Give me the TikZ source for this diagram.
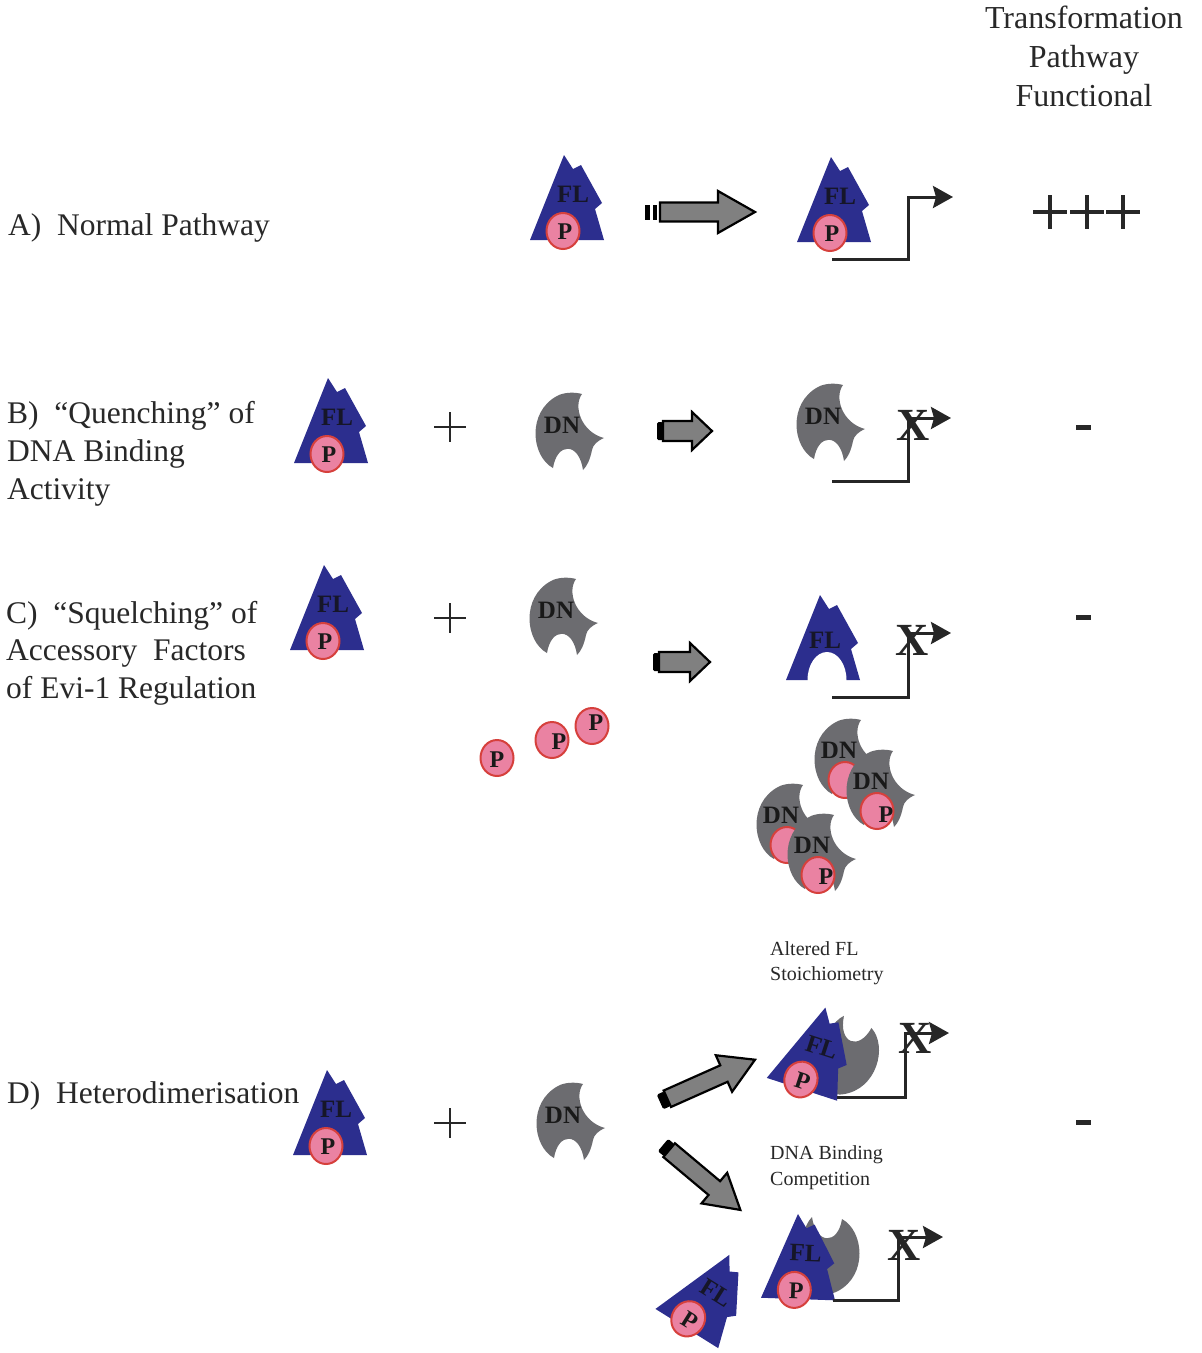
\documentclass[tikz,border=0pt]{standalone}
\usepackage{fontspec}
\setmainfont{Liberation Serif}
\usetikzlibrary{arrows.meta}

\definecolor{flblue}{RGB}{44,46,142}
\definecolor{dngray}{RGB}{108,108,112}
\definecolor{ppink}{RGB}{234,130,162}
\definecolor{pred}{RGB}{214,64,60}
\definecolor{arrgray}{RGB}{128,128,128}
\definecolor{ink}{RGB}{40,40,40}
\definecolor{flink}{RGB}{22,22,40}

% grey block arrow: tail point, angle, length, cap length, body half, head half, head length
\newcommand\blockarr[7]{%
  \begin{scope}[shift={#1},rotate=#2]
    \filldraw[arrowfill] (#4,-#5) -- ({#3-#7},-#5) -- ({#3-#7},-#6) -- (#3,0)
      -- ({#3-#7},#6) -- ({#3-#7},#5) -- (#4,#5) -- cycle;
    \fill[black,rounded corners=1.5pt] (0,{-#5+1}) rectangle (#4,{#5-1});
  \end{scope}}

\tikzset{
  lbl/.style={anchor=base west, inner sep=0pt, text=ink, font=\fontsize{31.5}{38}\selectfont},
  hdr/.style={anchor=base, inner sep=0pt, text=ink, font=\fontsize{32}{38}\selectfont},
  small/.style={anchor=base west, inner sep=0pt, text=ink, font=\fontsize{20}{24}\selectfont},
  fltext/.style={inner sep=0pt, text=flink, font=\fontsize{25}{25}\selectfont\bfseries, transform shape},
  ptext/.style={inner sep=0pt, text=black!90, font=\fontsize{24}{24}\selectfont\bfseries, transform shape},
  dntext/.style={inner sep=0pt, text=black!90, font=\fontsize{25}{25}\selectfont\bfseries, transform shape},
  xmark/.style={inner sep=0pt, text=black!85, font=\fontsize{46}{46}\selectfont\bfseries},
  pball/.style={fill=ppink, draw=pred, line width=2pt},
  prom/.style={draw=black!85, line width=3pt, line join=miter,
    -{Stealth[length=20pt,width=22pt,inset=3pt]}},
  thinplus/.style={draw=ink, line width=1.6pt},
  boldplus/.style={draw=ink, line width=4pt},
  minus/.style={draw=ink, line width=5pt},
  arrowfill/.style={fill=arrgray, draw=black, line width=2.2pt, line join=miter},
  % full-length protein: stacked triangles
  flshape/.pic={
    \fill[flblue] (-36,0) -- (-2,-85) -- (7,-71) -- (15,-75) -- (36,-37)
      -- (29,-31) -- (38,0) -- cycle;},
  flp/.pic={
    \pic[transform shape] {flshape};
    \node[fltext] (-t) at (7,-46) {FL};
    \draw[pball] (-3,-9) ellipse [x radius=16.5pt, y radius=18pt];
    \node[ptext] (-p) at (-1,-8) {P};},
  % dominant negative: notched crescent
  dnshape/.pic={
    \fill[dngray] (-14,36) .. controls (-36,24) and (-40,-20) .. (-10,-36)
      .. controls (-3,-40) and (8,-40) .. (15,-38)
      .. controls (6,-26) and (14,0) .. (37,6)
      .. controls (30,9) and (26,13) .. (25,18)
      .. controls (23,28) and (20,34) .. (16,38)
      .. controls (12,10) and (-10,10) .. (-14,36) -- cycle;},
  dn/.pic={
    \pic[transform shape] {dnshape};
    \node[dntext] (-t) at (-5,-7) {DN};},
  dnball/.pic={
    \pic[transform shape] {dnshape};
    \node[dntext] (-t) at (-7,-8) {DN};
    \draw[pball] (-1,22) ellipse [x radius=16.5pt, y radius=18pt];},
}

\begin{document}
\begin{tikzpicture}[x=1pt,y=-1pt]
\useasboundingbox (0,0) rectangle (1202,1353);
\fill[white] (0,0) rectangle (1202,1353);

% column heading
\node[hdr] (h1) at (1084,28) {Transformation};
\node[hdr] (h2) at (1084,67) {Pathway};
\node[hdr] (h3) at (1084,106) {Functional};

% row labels
\node[lbl] (la)  at (8,235)  {A)\enspace Normal Pathway};
\node[lbl] (lb1) at (7,423)  {B)\enspace “Quenching” of};
\node[lbl] (lb2) at (7,461)  {DNA Binding};
\node[lbl] (lb3) at (7,499)  {Activity};
\node[lbl] (lc1) at (6,623)  {C)\enspace “Squelching” of};
\node[lbl] (lc2) at (6,660)  {Accessory\ \ Factors};
\node[lbl] (lc3) at (6,698)  {of Evi-1 Regulation};
\node[lbl] (ld)  at (7,1103) {D)\enspace Heterodimerisation};

% ---------- A) normal pathway ----------
\pic (fa1) at (566,240) {flp};
\begin{scope}[shift={(645,212)}]
  \filldraw[arrowfill] (15,-9.5) -- (73,-9.5) -- (73,-21) -- (110,0)
    -- (73,21) -- (73,9.5) -- (15,9.5) -- cycle;
  \fill[black] (0,-7.5) rectangle (5,7.5);
  \fill[black] (7.5,-7.5) rectangle (12,7.5);
\end{scope}
\pic (fa2) at (833,242) {flp};
\coordinate (pa0) at (832,259);
\coordinate (pa1) at (908,259);
\coordinate (pa2) at (908,197);
\coordinate (pa3) at (953,197);
\draw[prom] (pa0) -- (pa1) -- (pa2) -- (pa3);
\foreach \cx in {1050,1087,1123}
  \draw[boldplus] (\cx-17,212) -- (\cx+17,212) (\cx,195) -- (\cx,229);

% ---------- B) quenching ----------
\pic (fb) at (330,463) {flp};
\draw[thinplus] (434,427) -- (466,427) (450,412) -- (450,442);
\pic (db1) at (567,432) {dn};
\blockarr{(657,431)}{0}{55}{6}{10}{19}{20}
\pic (db2) at (828,423) {dn};
\coordinate (pb0) at (832,481);
\coordinate (pb1) at (908,481);
\coordinate (pb2) at (908,418);
\coordinate (pb3) at (951,418);
\draw[prom] (pb0) -- (pb1) -- (pb2) -- (pb3);
\node[xmark] (xb) at (913,425) {X};
\draw[minus] (1076,427) -- (1091,427);

% ---------- C) squelching ----------
\pic (fc) at (326,650) {flp};
\draw[thinplus] (434,618) -- (466,618) (450,603) -- (450,633);
\pic (dc1) at (561,617) {dn};
\blockarr{(653,662)}{0}{57}{6}{10}{19}{20}
% FL without its partner: empty pocket
\pic (fc2) at (822,680) {flshape};
\fill[white] (827,680) ellipse [x radius=19.5pt, y radius=28pt];
\node[fltext] (fc2t) at (825,640) {FL};
\coordinate (pc0) at (832,697);
\coordinate (pc1) at (908,697);
\coordinate (pc2) at (908,633);
\coordinate (pc3) at (951,633);
\draw[prom] (pc0) -- (pc1) -- (pc2) -- (pc3);
\node[xmark] (xc) at (912,640) {X};
\draw[minus] (1076,617) -- (1091,617);
% free accessory factors
\draw[pball] (497,758) ellipse [x radius=16.5pt, y radius=18pt];
\node[ptext] (pf1) at (497,760) {P};
\draw[pball] (552,740) ellipse [x radius=16.5pt, y radius=18pt];
\node[ptext] (pf2) at (559,742) {P};
\draw[pball] (592,726) ellipse [x radius=16.5pt, y radius=18pt];
\node[ptext] (pf3) at (596,723) {P};
% DN sequestering accessory factors
\pic (dp1) at (846,758) {dnball};
\pic (dp2) at (878,789) {dnball};
\node[ptext] (dp2p) at (886,815) {P};
\pic (dp3) at (788,823) {dnball};
\pic (dp4) at (819,853) {dnball};
\node[ptext] (dp4p) at (826,877) {P};

% ---------- D) heterodimerisation ----------
\pic (fd) at (329,1155) {flp};
\draw[thinplus] (434,1123) -- (466,1123) (450,1108) -- (450,1138);
\pic (dd) at (568,1122) {dn};
\blockarr{(660,1102)}{24}{104}{8}{9}{20}{34}
\blockarr{(663,1145)}{-40}{101}{8}{9}{20}{34}
\node[small] (s1) at (770,955) {Altered FL};
\node[small] (s2) at (770,980) {Stoichiometry};
\node[small] (s3) at (770,1159) {DNA Binding};
\node[small] (s4) at (770,1185) {Competition};
% upper product: FL/DN heterodimer
\pic[rotate=160] (hd1) at (846,1057) {dnshape};
\pic[rotate=-18] (hf1) at (801,1089) {flp};
\coordinate (pd0) at (837,1097);
\coordinate (pd1) at (905,1097);
\coordinate (pd2) at (905,1033);
\coordinate (pd3) at (949,1033);
\draw[prom] (pd0) -- (pd1) -- (pd2) -- (pd3);
\node[xmark] (xd1) at (915,1038) {X};
% lower product: heterodimer on DNA, FL displaced
\pic[rotate=180] (hd2) at (828,1255) {dnshape};
\pic[rotate=-2] (hf2) at (797,1299) {flp};
\coordinate (pe0) at (833,1300);
\coordinate (pe1) at (898,1300);
\coordinate (pe2) at (898,1237);
\coordinate (pe3) at (943,1237);
\draw[prom] (pe0) -- (pe1) -- (pe2) -- (pe3);
\node[xmark] (xd2) at (904,1245) {X};
\pic[rotate=-32] (hf3) at (686,1328) {flp};
\draw[minus] (1076,1122) -- (1091,1122);
\end{tikzpicture}
\end{document}
